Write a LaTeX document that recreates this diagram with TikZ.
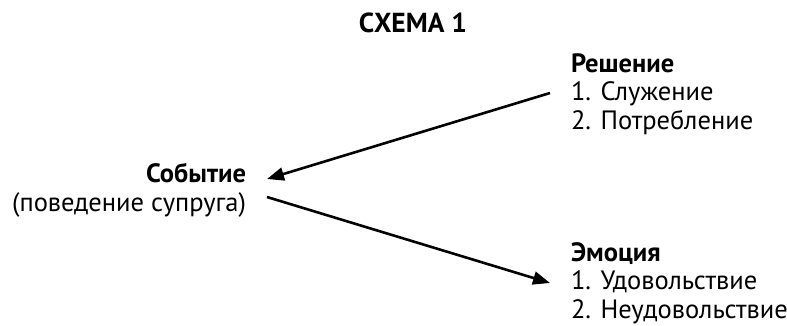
\documentclass[tikz,border=0pt]{standalone}
\usepackage{fontspec}
\setmainfont{PT Sans}
\usetikzlibrary{arrows.meta}
\tikzset{
  lbl/.style={inner sep=0pt, outer sep=0pt, font=\fontsize{26.5}{28.5}\selectfont},
  arr/.style={line width=2.6pt, -{Triangle[length=17pt,width=13pt]}},
}
\begin{document}
\begin{tikzpicture}[x=1pt,y=-1pt]
\useasboundingbox (0,0) rectangle (787,325);
\node[lbl, font=\fontsize{27.5}{29}\selectfont\bfseries, anchor=base] (title) at (413,32) {СХЕМА 1};
\node[lbl, anchor=base east, align=right] (event) at (246,211) {\textbf{Событие}\\(поведение супруга)};
\node[lbl, anchor=base west, align=left] (dec) at (571,129) {\textbf{Решение}\\1. Служение\\2. Потребление};
\node[lbl, anchor=base west, align=left] (emo) at (571,318) {\textbf{Эмоция}\\1. Удовольствие\\2. Неудовольствие};
\coordinate (d1) at (550,93);
\coordinate (e1) at (267,179);
\coordinate (e2) at (267,197);
\coordinate (m1) at (550,283);
\draw[arr] (d1) -- (e1);
\draw[arr] (e2) -- (m1);
\end{tikzpicture}
\end{document}
